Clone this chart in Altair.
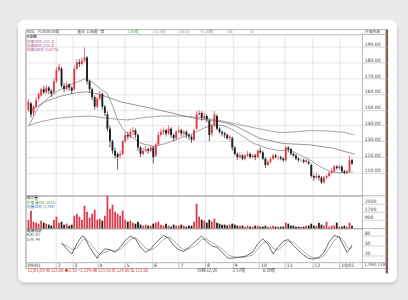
import json
import altair as alt
import pandas as pd

# ---------------- data ----------------
opens = [150,154,148,152,157,159,163,161,164,162,
         161,168,175,176,165,163,166,164,163,176,
         180,179,181,183,168,163,158,152,157,160,
         152,147,138,130,124,122,121,122,130,134,
         133,136,137,134,126,122,124,125,124,126,
         121,128,134,136,137,135,138,134,132,136,
         137,135,136,134,133,131,138,147,148,145,
         146,143,135,140,146,138,136,135,134,132,
         132,126,122,120,121,119,121,122,120,121,
         120,124,123,119,115,117,119,121,120,120,
         119,118,126,125,122,121,119,118,118,117,
         117,115,108,107,108,107,104,107,108,110,
         111,114,113,114,111,110,111,118]
closes = [155,147,152,156,160,163,161,164,162,160,
          168,175,177,165,163,166,164,162,176,180,
          179,181,183,168,163,158,152,157,160,152,
          148,138,130,124,121,120,122,130,134,133,
          136,137,134,126,122,124,125,124,126,120,
          128,134,136,137,135,138,134,132,136,137,
          135,136,134,133,131,137,147,148,145,146,
          144,134,140,147,138,136,135,134,132,133,
          126,122,120,121,119,121,122,120,121,120,
          124,123,119,115,117,119,121,120,120,119,
          118,126,125,122,121,119,118,118,117,118,
          116,108,107,108,107,104,107,108,110,111,
          114,113,114,111,110,111,118,116]
highs = [157,155,153,158,161,164,165,166,165,163,
         170,177,179,177,167,168,167,165,178,182,
         182,183,189.5,184,169,164,159,158,162,161,
         153,149,140,131,126,123,124,131,136,136,
         138,139,138,135,127,126,127,126,127,127,
         129,136,138,139,138,140,139,135,137,139,
         138,137,137,135,134,138,149,150,149,148,
         147,144,141,149,147,139,137,136,135,134,
         133,127,123,123,122,122,124,123,122,122,
         125,126,124,120,118,120,122,122,121,121,
         120,127,127,126,123,122,120,119,119,119,
         118,116,109,110,109,108,108,109,111,113,
         115,115,115,115,112,112,121,119]
lows = [149,145,146,151,155,158,160,160,160,158,
        160,167,174,164,161,162,162,160,162,175,
        177,178,180,166,161,156,150,151,156,150,
        146,136,126,122,119,112,119,121,129,131,
        132,134,132,124,120,121,123,122,123,116,
        120,127,133,134,133,134,132,130,131,135,
        133,133,132,131,129,130,137,146,143,144,
        142,130,133,139,137,135,133,132,131,130,
        124,121,118,119,118,118,120,119,119,118,
        119,122,118,113,114,116,118,119,118,118,
        117,117,123,121,120,118,117,117,116,116,
        115,107,105,106,105,103,103,106,107,109,
        110,112,112,110,109,109,110,115]
volumes = [900,1800,700,600,500,800,600,500,400,300,
           900,1200,600,700,400,500,300,400,1300,1500,
           1200,900,2300,1700,1100,1500,1900,900,1000,800,
           1300,3300,2000,2400,1700,1500,1300,1800,900,700,
           800,600,500,700,400,300,400,300,300,500,
           600,700,400,300,500,300,200,400,300,300,
           400,300,200,300,300,700,2500,1200,900,800,
           600,900,700,1000,600,500,400,400,300,400,
           500,400,300,300,300,200,300,200,200,300,
           300,200,200,300,200,200,300,200,200,200,
           200,600,500,300,300,200,200,200,200,300,
           300,500,300,300,600,400,300,700,200,300,
           300,600,200,200,300,200,600,300]

ma_fast_i = [0,3.6,7.5,11.4,15.3,19.2,22.4,25,28.3,30.9,32.9,34.8,36.8,39.4,43.9,49.1,54.3,
             59.5,64.7,68.7,72.6,76.5,80.4,84.3,88.2,93.4,98.6,102.5,106.4,110.3,114.2,118.2,122.1,127.3]
ma_fast_v = [139.3,150.8,157.1,161.7,165.1,167.6,169.7,167.6,163,160.3,152.9,144.6,138.3,134.1,128.8,
             126.8,128.8,132,135.1,138.3,140.4,140,137.2,133,128.8,125.7,124,124.7,121.5,118.4,114.2,111,110,110.6]
ma_mid_i = [0,6.2,12.7,19.2,23.3,28.3,36.1,49.1,66,75.2,80.4,90.8,99.9,110.3,119.4,127.9]
ma_mid_v = [148.7,155,158.6,160.9,161.3,159.6,155,150.6,144.3,142.5,140.4,131.8,128.6,127.8,125.7,121.9]
ma_slow_i = [0,4.9,11.4,17.9,24.4,30.9,38.7,45.2,51.7,59.5,67.4,73.9,80.4,88.2,96,99.9,106.4,110.3,116.9,123.4,127.9]
ma_slow_v = [140,142.5,144.6,145.6,146,144.6,143.5,145,146,146,145,143.5,141.4,138.7,136.2,135.5,136.2,136.8,136.6,135.8,134.1]

kd_i = [13,15,17,19,21,22,24,27,28,30,32,34,36,38,40,42,44,46,48,50,53,55,57,59,61,63,66,68,70,72,
        74,76,78,79,82,85,88,90,92,94,96,98,100,102,104,106,108,110,112,114,116,118,120,122,124,125,126,127]
k_vals = [58,40,25,55,78,75,45,12,25,40,38,30,45,65,78,70,45,30,40,58,80,72,50,38,32,45,65,78,62,48,
          45,30,15,12,15,18,30,55,70,55,25,45,62,68,50,35,22,12,10,15,30,60,80,75,45,30,38,52]
d_vals = [55,50,38,42,62,70,60,30,24,30,36,34,38,52,68,73,60,42,36,45,68,76,65,48,38,40,52,68,70,58,
          50,40,25,20,15,16,22,40,58,62,42,36,50,62,60,45,32,20,14,12,20,42,66,76,62,45,40,45]

month_pos = [-1, 10.7, 17.2, 27, 37.7, 48.5, 58.9, 69.3, 80.1, 90.5, 100.6, 111.4, 122]
month_labels = ["09/01", "2", "3", "4", "5", "6", "7", "8", "9", "10", "11", "12", "10/01"]
price_ticks = [110, 120, 130, 140, 150, 160, 170, 180, 190]
vol_ticks = [900, 1700, 2500]
kd_ticks = [20, 50, 80]

# ---------------- styling ----------------
W = 338
H_HEAD, H_PRICE, H_VOL, H_KD = 5, 162, 33, 34
CJK = "Noto Sans CJK TC"
NUM = "DejaVu Sans"
BG = "#e9e9e9"
GRID = "#d4d4d4"
FRAME = "#9a9a9a"
UP = "#dc3b4b"
DOWN = "#1e1e1e"
GREEN = "#3f9a45"
LEG = "#9b4b8b"
LS = 3.7  # legend font size

one = pd.DataFrame({"o": [0]})

candles = pd.DataFrame({"i": list(range(len(closes))), "open": opens, "high": highs,
                        "low": lows, "close": closes, "vol": volumes})

x_scale = alt.Scale(domain=[-1, 131], nice=False, zero=False)
label_expr = f"{json.dumps(month_labels)}[indexof({json.dumps(month_pos)}, datum.value)]"


def x_enc(field, labels=False):
    if labels:
        axis = alt.Axis(values=month_pos, grid=True, gridColor=GRID, gridWidth=0.6, domain=False,
                        ticks=True, tickSize=6, tickColor=FRAME, tickWidth=0.6,
                        labelExpr=label_expr, labelAlign="left", labelBaseline="top",
                        labelPadding=-5.5, labelOffset=1.5, labelFontSize=4.6, labelFont=NUM,
                        labelColor="#333", labelFlush=False, labelOverlap=False, labelBound=False)
    else:
        axis = alt.Axis(values=month_pos, grid=True, gridColor=GRID, gridWidth=0.6, domain=False,
                        ticks=False, labels=False)
    return alt.X(f"{field}:Q", scale=x_scale, axis=axis, title=None)


def y_axis(values, fmt, grid):
    return alt.Axis(orient="right", values=values, format=fmt, grid=grid, gridColor=GRID,
                    gridWidth=0.6, domain=False, ticks=True, tickSize=25, tickColor="#b4b4b4",
                    tickWidth=0.6, labelPadding=-23, labelAlign="left", labelBaseline="bottom",
                    labelFontSize=4.6, labelFont=NUM, labelColor="#444", labelOverlap=False,
                    labelFlush=False, labelBound=False)


def txt(s, x, y, color="#333", size=LS, font=CJK, align="left"):
    return alt.Chart(one).mark_text(text=s, align=align, baseline="middle", fontSize=size,
                                    font=font, color=color).encode(x=alt.value(x), y=alt.value(y))


def box(x1, y1, x2, y2, fill="transparent", stroke="transparent", sw=0.0, radius=0, opacity=1.0):
    return alt.Chart(one).mark_rect(fill=fill, stroke=stroke, strokeWidth=sw, cornerRadius=radius,
                                    opacity=opacity).encode(
        x=alt.value(x1), x2=alt.value(x2), y=alt.value(y1), y2=alt.value(y2))


def hline(x1, x2, y, color=FRAME, sw=0.7):
    return alt.Chart(one).mark_rule(color=color, strokeWidth=sw).encode(
        x=alt.value(x1), x2=alt.value(x2), y=alt.value(y))


def vline(x, y1, y2, color=FRAME, sw=0.7):
    return alt.Chart(one).mark_rule(color=color, strokeWidth=sw).encode(
        x=alt.value(x), y=alt.value(y1), y2=alt.value(y2))


# ---------------- header strip (also draws the card behind everything) ----------------
HY = 2.6
head_layers = [
    box(-10, -9, 375, 258, fill="#000000", radius=11, opacity=0.045),
    box(-9, -9.5, 374, 256, fill="#000000", radius=9, opacity=0.05),
    box(-8, -10, 373, 254, fill="#ffffff", radius=7),
    box(0, 0, 363, 240, stroke=FRAME, sw=0.7),
    box(361.5, 0, 364, 245, fill="#8b5b5b"),
    vline(338, 234, 240),
    hline(338, 363, 5), hline(338, 363, 167), hline(338, 363, 200), hline(338, 363, 234),
    txt("NEG", 1, HY), txt("代:4530 日線", 12, HY), txt("股本", 52, HY),
    txt("3.56億", 61, HY), txt("幣", 75, HY),
    txt("1.50億", 102, HY, color="#3aa63a"), txt("111.5億", 127, HY, color="#86b886"),
    txt("136.00", 153, HY, color="#a0a0a0"), txt("+1.20億", 175, HY, color="#8a8a8a"),
    txt("1日", 202, HY, color="#8a8a8a"), txt("35", 225, HY, color="#a0a0a0"),
    txt("外資籌碼", 341, HY, color="#555"),
]
header = alt.layer(*head_layers).properties(width=W, height=H_HEAD)

# ---------------- price panel ----------------
price_scale = alt.Scale(domain=[95.5, 197.6], nice=False, zero=False)


def py(field):
    return alt.Y(f"{field}:Q", scale=price_scale, axis=y_axis(price_ticks, ".2f", True), title=None)


cbase = alt.Chart(candles).transform_calculate(dir="datum.close >= datum.open ? 'up' : 'down'")
ccolor = alt.Color("dir:N", scale=alt.Scale(domain=["up", "down"], range=[UP, DOWN]), legend=None)
wicks = cbase.mark_rule(strokeWidth=0.7).encode(x=x_enc("i"), y=py("low"), y2=alt.Y2("high"), color=ccolor)
bodies = cbase.mark_rule(strokeWidth=1.9).encode(x=x_enc("i"), y=py("open"), y2=alt.Y2("close"), color=ccolor)


def ma_line(xs, vs, color):
    df = pd.DataFrame({"i": xs, "v": vs})
    return alt.Chart(df).mark_line(color=color, strokeWidth=0.8).encode(x=x_enc("i"), y=py("v"))


price = alt.layer(
    ma_line(ma_slow_i, ma_slow_v, "#8d8d8d"),
    ma_line(ma_mid_i, ma_mid_v, "#7c7c7c"),
    ma_line(ma_fast_i, ma_fast_v, "#8a8a8a"),
    wicks, bodies,
    txt("K線圖", 1, 2.8, color="#222"),
    txt("均價20日 (111.3)", 1, 7.0, color=LEG),
    txt("均價60日 (115.4)", 1, 11.2, color=LEG),
    txt("均價240日 (124.75)", 1, 15.4, color=LEG),
).properties(width=W, height=H_PRICE)

# ---------------- volume panel ----------------
vol_scale = alt.Scale(domain=[0, 3300], nice=False)
vbase = alt.Chart(candles).transform_calculate(
    vdir="datum.close >= datum.open ? 'up' : (datum.vol >= 1000 ? 'heavy' : 'down')")
vbars = vbase.mark_rule(strokeWidth=1.8).encode(
    x=x_enc("i"),
    y=alt.Y("vol:Q", scale=vol_scale, axis=y_axis(vol_ticks, "d", False), title=None),
    y2=alt.datum(0),
    color=alt.Color("vdir:N", scale=alt.Scale(domain=["up", "heavy", "down"], range=[UP, GREEN, DOWN]),
                    legend=None))
volume = alt.layer(
    vbars,
    txt("成交量", 1, 2.6, color="#222"),
    txt("外資 量5日 (4521)", 1, 6.8, color="#3aa63a"),
    txt("均量20日 (1,759)", 1, 11.0, color="#3a5fc0"),
).properties(width=W, height=H_VOL)

# ---------------- KD panel ----------------
kd_scale = alt.Scale(domain=[0, 100], nice=False)
kdf = pd.DataFrame({"i": kd_i, "k": k_vals, "d": d_vals})
kline = alt.Chart(kdf).mark_line(color="#2a2a2a", strokeWidth=0.7).encode(
    x=x_enc("i", True), y=alt.Y("k:Q", scale=kd_scale, axis=y_axis(kd_ticks, "d", False), title=None))
dline = alt.Chart(kdf).mark_line(color="#8c8c8c", strokeWidth=0.7).encode(
    x=x_enc("i", True), y=alt.Y("d:Q", scale=kd_scale, axis=y_axis(kd_ticks, "d", False), title=None))
kd = alt.layer(
    dline, kline,
    txt("隨機指標", 1, 2.6, color="#222"),
    txt("K(9): 52", 1, 6.8, color="#333"),
    txt("D(9): 49", 1, 11.0, color="#555"),
    txt("1,090,128", 340, 37, color="#555", font=NUM, size=4.2),
    txt("12/01/09 收 123.00 ▲1.50 +1.23% 開 123.50 高 124.00 低 121.00", 2, 42.5, color="#d03030", size=4.2),
    txt("日期:12/26", 172, 42.5, color="#333", size=4.2),
    txt("2.57億", 208, 42.5, color="#333", size=4.2),
    txt("0.39億", 238, 42.5, color="#333", size=4.2),
).properties(width=W, height=H_KD)

chart = alt.vconcat(header, price, volume, kd, spacing=0, bounds="flush").properties(
    padding={"left": 15, "top": 18, "right": 8, "bottom": 14},
    background=BG,
).configure_view(stroke=FRAME, strokeWidth=0.7)

chart.save("out.html", embed_options={"renderer": "svg", "actions": False})
